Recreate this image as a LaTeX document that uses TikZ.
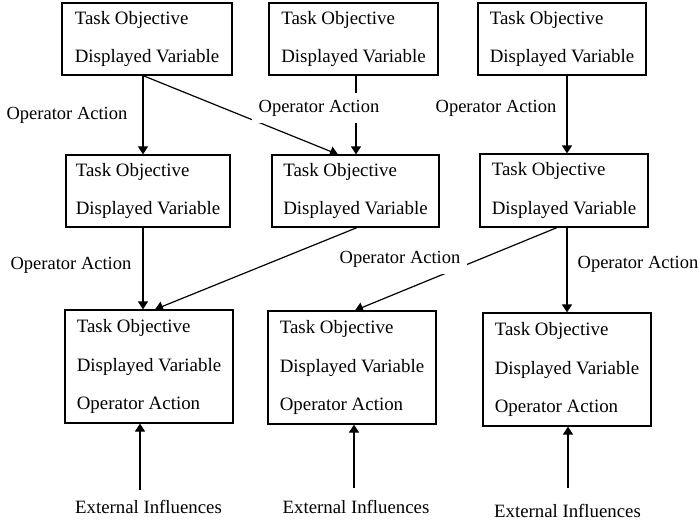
\documentclass[tikz,border=0pt]{standalone}
\usepackage{fontspec}
\setmainfont{Liberation Serif}
\usetikzlibrary{arrows.meta}
\begin{document}
\begin{tikzpicture}[x=1pt,y=-1pt,
  box/.style={draw, line width=1.2pt, align=left, font=\fontsize{18.9}{38.5}\selectfont, inner sep=0pt},
  conn/.style={line width=1.2pt, -{Triangle[length=8pt,width=10pt]}},
  lbl/.style={font=\fontsize{18.5}{22}\selectfont, inner sep=0pt},
  xlbl/.style={font=\fontsize{18.8}{22}\selectfont, inner sep=0pt},
  wlbl/.style={lbl, fill=white, inner sep=7pt}]
\useasboundingbox[fill=white] (0,0) rectangle (700,522);
% boxes
\node[box, minimum width=170, minimum height=72] (A) at (147,39) {Task Objective\\Displayed Variable};
\node[box, minimum width=169, minimum height=72] (B) at (353.5,39) {Task Objective\\Displayed Variable};
\node[box, minimum width=168, minimum height=72] (C) at (562,39) {Task Objective\\Displayed Variable};
\node[box, minimum width=164, minimum height=72] (D) at (148,191) {Task Objective\\Displayed Variable};
\node[box, minimum width=167, minimum height=72] (E) at (355.5,191) {Task Objective\\Displayed Variable};
\node[box, minimum width=168, minimum height=73] (F) at (564,190.5) {Task Objective\\Displayed Variable};
\node[box, minimum width=168, minimum height=113] (G) at (149,366.5) {Task Objective\\Displayed Variable\\Operator Action};
\node[box, minimum width=168, minimum height=113] (H) at (352,367.5) {Task Objective\\Displayed Variable\\Operator Action};
\node[box, minimum width=168, minimum height=113] (I) at (567,369.5) {Task Objective\\Displayed Variable\\Operator Action};
% external influences
\node[xlbl] (XG) at (148.5,507) {External Influences};
\node[xlbl] (XH) at (356,507) {External Influences};
\node[xlbl] (XI) at (567.5,511) {External Influences};
% connectors
\draw[conn] ([xshift=-4pt]A.south) -- ([xshift=-5pt]D.north);
\draw[conn] ([xshift=-4pt]A.south) -- ([xshift=-17.5pt]E.north);
\draw[conn] ([xshift=2.5pt]B.south) -- ([xshift=0.5pt]E.north);
\draw[conn] ([xshift=5pt]C.south) -- ([xshift=3pt]F.north);
\draw[conn] ([xshift=-5pt]D.south) -- ([xshift=-6pt]G.north);
\draw[conn] ([xshift=1.5pt]E.south) -- ([xshift=6pt]G.north);
\draw[conn] ([xshift=-7pt]F.south) -- ([xshift=3pt]H.north);
\draw[conn] ([xshift=3pt]F.south) -- ([xshift=0pt]I.north);
\draw[conn] ([xshift=-8.5pt,yshift=10.5pt]XG.north) -- ([xshift=-9pt]G.south);
\draw[conn] ([xshift=-2pt,yshift=12.5pt]XH.north) -- ([xshift=2pt]H.south);
\draw[conn] ([xshift=0.5pt,yshift=16pt]XI.north) -- ([xshift=1pt]I.south);
% labels
\node[lbl] (L1) at (67,115) {Operator Action};
\node[wlbl] (L2) at (319,108) {Operator Action};
\node[lbl] (L3) at (496,108) {Operator Action};
\node[lbl] (L4) at (71,265) {Operator Action};
\node[wlbl] (L5) at (400,259) {Operator Action};
\node[lbl] (L6) at (638,264) {Operator Action};
\end{tikzpicture}
\end{document}
